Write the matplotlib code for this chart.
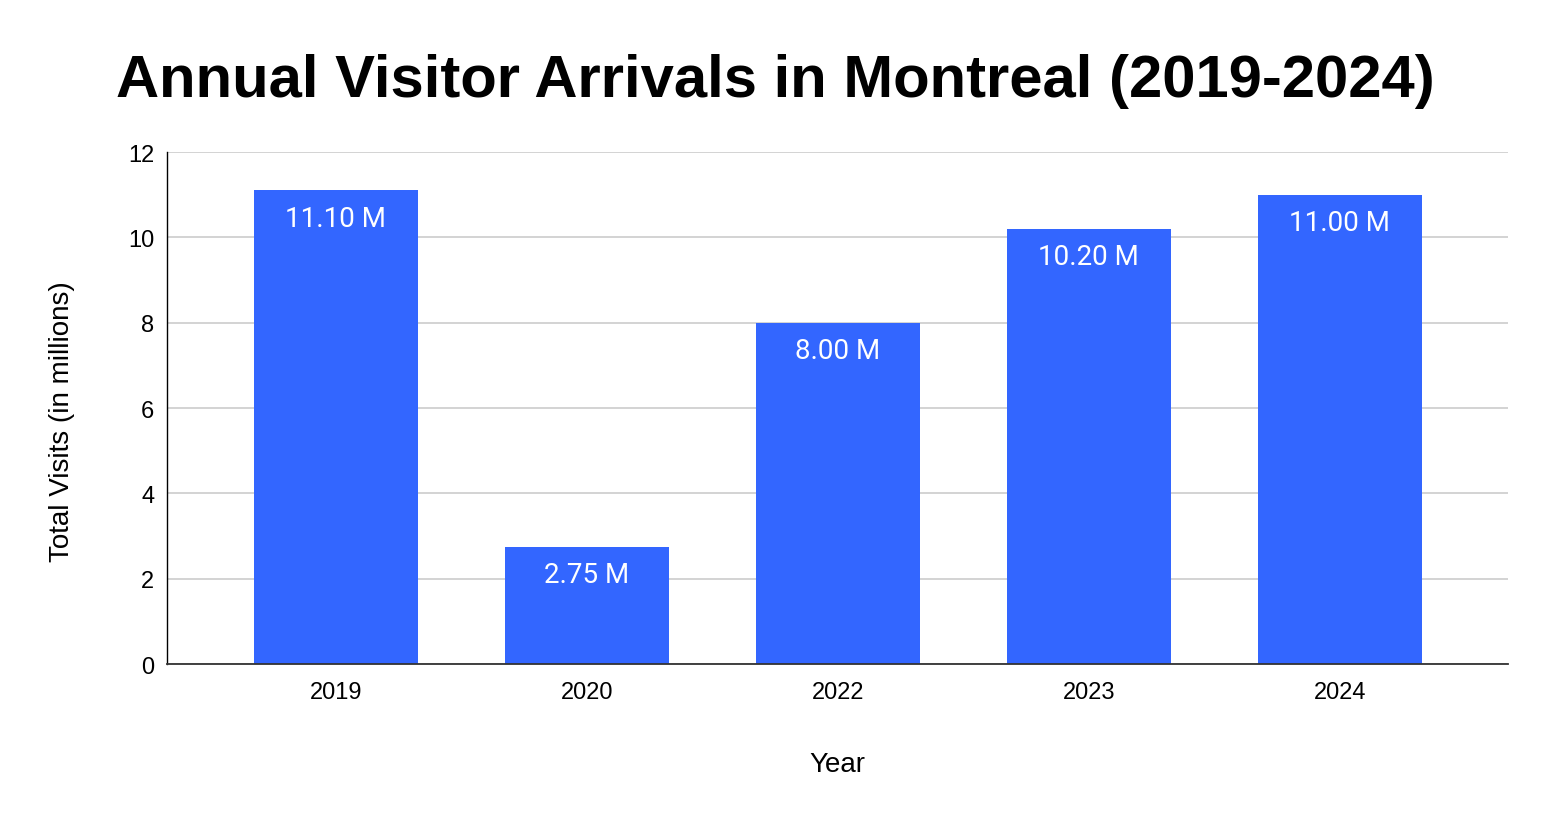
import matplotlib
matplotlib.use("Agg")
import matplotlib.pyplot as plt
import numpy as np

# Annual visitor arrivals (millions)
years = ["2019", "2020", "2022", "2023", "2024"]
visits = [11.10, 2.75, 8.00, 10.20, 11.00]
yticks = [0, 2, 4, 6, 8, 10, 12]

bar_color = "#3366ff"

fig = plt.figure(figsize=(15.5, 8.2), dpi=100)
ax = fig.add_axes([0.1077, 0.189, 0.8652, 0.6244])

x = np.arange(len(years))
bars = ax.bar(x, visits, width=0.653, color=bar_color, zorder=3)

for b, v in zip(bars, visits):
    ax.annotate(f"{v:.2f} M", (b.get_x() + b.get_width() / 2, v),
                xytext=(0, -28), textcoords="offset pixels",
                ha="center", va="center", color="white", fontsize=20, family="Roboto")

ax.set_xlim(-0.673, len(years) - 1 + 0.67)
ax.set_ylim(0, 12)
ax.set_yticks(yticks)
ax.set_xticks(x)
ax.set_xticklabels(years)
for lbl in ax.get_xticklabels() + ax.get_yticklabels():
    lbl.set_family("Liberation Sans")
    lbl.set_fontsize(17)
ax.tick_params(length=0, pad=9)
ax.tick_params(axis="x", pad=12)
ax.yaxis.grid(True, color="#cccccc", linewidth=1.2, zorder=0)
for s in ["top", "right"]:
    ax.spines[s].set_visible(False)
ax.spines["left"].set_color("black")
ax.spines["left"].set_linewidth(1.0)
ax.spines["bottom"].set_color("#333333")
ax.spines["bottom"].set_linewidth(1.3)
ax.spines["bottom"].set_zorder(4)

ax.set_xlabel("Year", family="Liberation Sans", fontsize=20, labelpad=35)
ax.set_ylabel("Total Visits (in millions)", family="Liberation Sans", fontsize=20)
ax.yaxis.set_label_coords(-0.0685, 0.475)

fig.text(0.5, 0.901, "Annual Visitor Arrivals in Montreal (2019-2024)",
         ha="center", va="center", fontsize=43, fontweight="bold",
         family="Liberation Sans")

fig.savefig("out.png", dpi=100, facecolor="white")
